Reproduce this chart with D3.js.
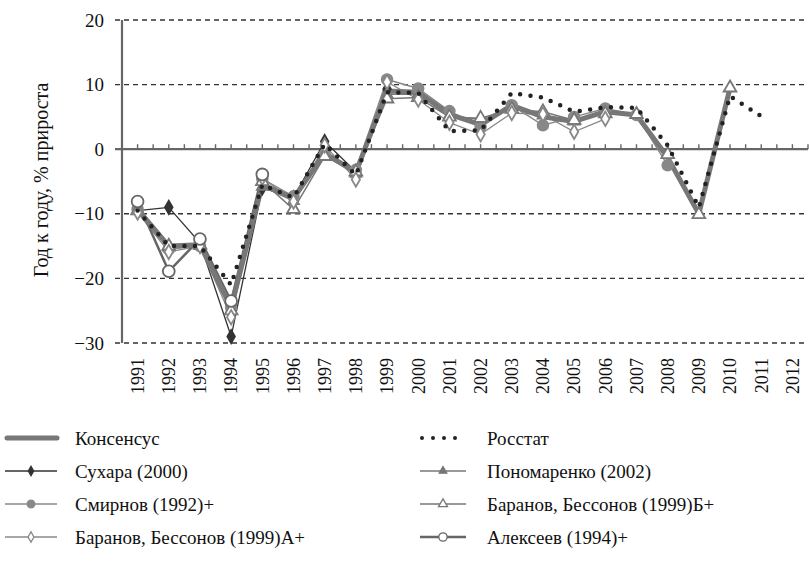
<!DOCTYPE html>
<html>
<head>
<meta charset="utf-8">
<script src="https://cdn.jsdelivr.net/npm/d3@7"></script>
<style>
  body { margin: 0; background: #fff; }
  svg text { font-family: "Liberation Serif", "Times New Roman", serif; fill: #111; }
</style>
</head>
<body>
<div id="chart"></div>
<script>
// years on the category axis
var years = d3.range(1991, 2013).map(String);
var yTicks = [-30, -20, -10, 0, 10, 20];

// series values, % y/y (null = no data)
var consensus   = [-9.3, -15.0, -14.8, -24.5, -5.5, -7.6, -0.6, -3.6, 9.0, 8.8, 5.4, 3.8, 6.8, 5.0, 4.3, 5.8, 5.3, -1.3, -10.0, 9.5, null, null];
var rosstat     = [-9.5, -15.0, -15.0, -21.0, -5.5, -7.5, 0.8, -4.0, 8.8, 8.7, 2.8, 2.9, 8.7, 8.0, 5.8, 6.5, 6.4, 0.6, -9.0, 8.2, 5.1, null];
var sukhara     = [-9.5, -9.0, -14.5, -29.0, -6.0, -7.5, 1.2, -3.5, 9.3, null, null, null, null, null, null, null, null, null, null, null, null, null];
var ponomarenko = [-9.5, -15.2, -15.0, -25.0, -5.8, -8.0, -1.0, -3.8, 8.5, 8.5, 5.2, 4.6, 6.5, 5.2, 4.3, 5.6, null, null, null, null, null, null];
var smirnov     = [-9.3, -15.5, -15.0, -24.5, -4.6, -7.3, -0.8, -3.2, 10.8, 9.4, 5.9, 3.5, 6.8, 3.7, 5.0, 6.3, 5.3, -2.5, null, null, null, null];
var baranovB    = [-9.5, -15.0, -14.8, -25.0, -5.0, -9.3, -1.1, -3.5, 7.8, 8.0, 5.0, 4.8, 6.2, 5.8, 4.5, 5.5, 5.4, -0.8, -10.1, 9.5, null, null];
var baranovA    = [-9.8, -15.9, -15.0, -26.0, -4.4, -8.1, 0.6, -4.7, 10.4, 7.7, 4.1, 2.3, 5.6, 5.4, 2.7, 4.7, null, null, null, null, null, null];
var alekseev    = [-8.1, -18.9, -13.9, -23.5, -3.9, null, null, null, null, null, null, null, null, null, null, null, null, null, null, null, null, null];

var series = [
  {name: "Сухара (2000)", values: sukhara, color: "#333", width: 1.3, symbol: d3.symbolDiamond, size: 50, fill: "#333", col: 0, row: 1},
  {name: "Пономаренко (2002)", values: ponomarenko, color: "#777", width: 1.3, symbol: d3.symbolTriangle, size: 50, fill: "#777", col: 1, row: 1},
  {name: "Смирнов (1992)+", values: smirnov, color: "#888", width: 1.5, symbol: d3.symbolCircle, size: 90, fill: "#888", col: 0, row: 2},
  {name: "Баранов, Бессонов (1999)Б+", values: baranovB, color: "#777", width: 1.5, symbol: d3.symbolTriangle, size: 70, fill: "#fff", col: 1, row: 2},
  {name: "Баранов, Бессонов (1999)А+", values: baranovA, color: "#888", width: 1.3, symbol: d3.symbolDiamond, size: 60, fill: "#fff", col: 0, row: 3},
  {name: "Алексеев (1994)+", values: alekseev, color: "#666", width: 2.5, symbol: d3.symbolCircle, size: 110, fill: "#fff", col: 1, row: 3}
];

var W = 809, H = 561;
var svg = d3.select("#chart").append("svg").attr("width", W).attr("height", H);

var x = d3.scaleBand().domain(years).range([122, 808]);
var y = d3.scaleLinear().domain([-30, 20]).range([343, 20]);
var cx = d => x(d) + x.bandwidth() / 2;

// dashed grid
svg.append("g").selectAll("line").data(yTicks.filter(d => d !== 0)).enter()
  .append("line")
  .attr("x1", 115).attr("x2", 808)
  .attr("y1", d => y(d)).attr("y2", d => y(d))
  .attr("stroke", "#333").attr("stroke-width", 1.4).attr("stroke-dasharray", "5,4");

// y axis labels
var yAxis = svg.append("g").attr("transform", "translate(122,0)")
  .call(d3.axisLeft(y).tickValues(yTicks).tickSize(0).tickPadding(18));
yAxis.select(".domain").remove();
yAxis.selectAll("text").style("font-size", "19px");

svg.append("line").attr("x1", 122).attr("x2", 122).attr("y1", y(20)).attr("y2", y(-30))
  .attr("stroke", "#666").attr("stroke-width", 2.2);

// zero line with small ticks
svg.append("line").attr("x1", 115).attr("x2", 808).attr("y1", y(0)).attr("y2", y(0))
  .attr("stroke", "#666").attr("stroke-width", 2.2);
var tickXs = [];
years.forEach(function(yr) { tickXs.push(x(yr)); tickXs.push(cx(yr)); });
tickXs.push(808);
svg.append("g").selectAll("line").data(tickXs.slice(1)).enter().append("line")
  .attr("x1", d => d).attr("x2", d => d)
  .attr("y1", y(0)).attr("y2", y(0) - 5)
  .attr("stroke", "#666").attr("stroke-width", 1.4);

// year labels
var xAxis = svg.append("g").attr("transform", "translate(0," + y(-30) + ")")
  .call(d3.axisBottom(x).tickSize(0));
xAxis.select(".domain").remove();
xAxis.selectAll("text")
  .attr("transform", "rotate(-90)")
  .attr("x", -15).attr("y", 0).attr("dy", "0.35em")
  .attr("text-anchor", "end")
  .style("font-size", "18px");

// axis title
svg.append("text")
  .attr("transform", "translate(48,180) rotate(-90)")
  .attr("text-anchor", "middle")
  .style("font-size", "20px")
  .text("Год к году, % прироста");

var line = d3.line()
  .defined(d => d[1] !== null)
  .x(d => cx(d[0]))
  .y(d => y(d[1]));
var pairs = v => years.map((yr, i) => [yr, v[i]]);

var plot = svg.append("g");
series.forEach(function(s) {
  plot.append("path").datum(pairs(s.values))
    .attr("d", line).attr("fill", "none")
    .attr("stroke", s.color).attr("stroke-width", s.width);
});

plot.append("path").datum(pairs(consensus))
  .attr("d", line).attr("fill", "none")
  .attr("stroke", "#777").attr("stroke-width", 5).attr("stroke-linejoin", "round");

series.forEach(function(s) {
  plot.append("g").selectAll("path")
    .data(pairs(s.values).filter(d => d[1] !== null)).enter()
    .append("path")
    .attr("transform", d => "translate(" + cx(d[0]) + "," + y(d[1]) + ")")
    .attr("d", d3.symbol().type(s.symbol).size(s.size))
    .attr("fill", s.fill).attr("stroke", s.color).attr("stroke-width", 1.8);
});

plot.append("path").datum(pairs(rosstat))
  .attr("d", line).attr("fill", "none")
  .attr("stroke", "#222").attr("stroke-width", 4.5)
  .attr("stroke-linecap", "round").attr("stroke-dasharray", "0,10.5");

// legend
var colX = [5, 420], sampleW = [52, 46], textDx = [70, 67];
var rowY = [438, 471, 504, 537];
var leg = svg.append("g");
function legText(col, row, txt) {
  leg.append("text").attr("x", colX[col] + textDx[col]).attr("y", rowY[row]).attr("dy", "0.35em")
    .style("font-size", "19px").text(txt);
}
leg.append("line").attr("x1", colX[0] + 2).attr("x2", colX[0] + sampleW[0])
  .attr("y1", rowY[0]).attr("y2", rowY[0])
  .attr("stroke", "#777").attr("stroke-width", 5).attr("stroke-linecap", "round");
legText(0, 0, "Консенсус");
leg.append("line").attr("x1", colX[1] + 2).attr("x2", colX[1] + sampleW[1])
  .attr("y1", rowY[0]).attr("y2", rowY[0])
  .attr("stroke", "#222").attr("stroke-width", 4)
  .attr("stroke-linecap", "round").attr("stroke-dasharray", "0,11");
legText(1, 0, "Росстат");

series.forEach(function(s) {
  var lx = colX[s.col], ly = rowY[s.row], w = sampleW[s.col];
  leg.append("line").attr("x1", lx).attr("x2", lx + w).attr("y1", ly).attr("y2", ly)
    .attr("stroke", s.color).attr("stroke-width", s.width);
  leg.append("path").attr("transform", "translate(" + (lx + w / 2) + "," + ly + ")")
    .attr("d", d3.symbol().type(s.symbol).size(s.size * 0.5))
    .attr("fill", s.fill).attr("stroke", s.color).attr("stroke-width", 1.3);
  legText(s.col, s.row, s.name);
});
</script>
</body>
</html>
